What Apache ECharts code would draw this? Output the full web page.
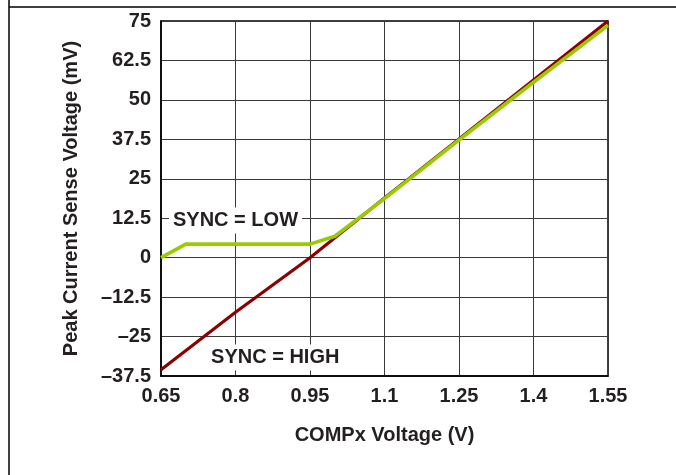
<!DOCTYPE html>
<html>
<head>
<meta charset="utf-8">
<script src="https://cdn.jsdelivr.net/npm/echarts@6/dist/echarts.min.js"></script>
<style>
html,body{margin:0;padding:0;background:#fff;}
#c{width:676px;height:475px;}
</style>
</head>
<body>
<div id="c"></div>
<script>
// ---- data ----
var xTicks = [0.65, 0.8, 0.95, 1.1, 1.25, 1.4, 1.55];
var syncHighX = [0.65, 0.8, 0.95, 1.1, 1.25, 1.4, 1.55];
var syncHighY = [-35.5, -17.3, 0, 18.9, 37.6, 56.3, 75];
var syncLowX = [0.65, 0.70, 0.95, 1.0, 1.1, 1.25, 1.4, 1.55];
var syncLowY = [0, 4.3, 4.3, 6.8, 18.7, 37.3, 55.6, 73.6];
var annotTexts = ['SYNC = LOW', 'SYNC = HIGH'];
var annotX = [0.80, 0.88];
var annotY = [11.8, -31.6];

function pairs(xs, ys) { return xs.map(function (x, i) { return [x, ys[i]]; }); }

var FONT = '"Liberation Sans", Arial, sans-serif';
var TXT = '#231f20';
var FS = 20;

var chart = echarts.init(document.getElementById('c'), null, {renderer: 'canvas'});
var option = {
  animation: false,
  backgroundColor: '#fff',
  grid: {left: 161, right: 68, top: 21, bottom: 99, show: true, borderColor: '#000', borderWidth: 1.5, backgroundColor: 'transparent'},
  xAxis: {
    type: 'value', min: 0.65, max: 1.55,
    name: 'COMPx Voltage (V)', nameLocation: 'middle', nameGap: 49,
    nameTextStyle: {fontFamily: FONT, fontWeight: 'bold', fontSize: FS, color: TXT},
    axisLine: {show: true, onZero: false, lineStyle: {color: '#000', width: 1.5}},
    axisTick: {show: false, customValues: xTicks},
    axisLabel: {customValues: xTicks, margin: 10, fontFamily: FONT, fontWeight: 'bold', fontSize: FS, color: TXT,
      formatter: function (v) { return String(Math.round(v * 100) / 100); }},
    splitLine: {show: true, lineStyle: {color: '#3a3a3a', width: 1}}
  },
  yAxis: {
    type: 'value', min: -37.5, max: 75, interval: 12.5,
    name: 'Peak Current Sense Voltage (mV)', nameLocation: 'middle', nameGap: 80,
    nameTextStyle: {fontFamily: FONT, fontWeight: 'bold', fontSize: FS, color: TXT},
    axisLine: {show: true, onZero: false, lineStyle: {color: '#000', width: 1.5}},
    axisTick: {show: false},
    axisLabel: {margin: 10, fontFamily: FONT, fontWeight: 'bold', fontSize: FS, color: TXT,
      formatter: function (v) { return String(v).replace('-', '\u2013'); }},
    splitLine: {show: true, lineStyle: {color: '#3a3a3a', width: 1}}
  },
  series: [
    {type: 'line', name: 'SYNC = HIGH', data: pairs(syncHighX, syncHighY), symbol: 'none',
      lineStyle: {color: '#8b0000', width: 3.2}, z: 3},
    {type: 'line', name: 'SYNC = LOW', data: pairs(syncLowX, syncLowY), symbol: 'none',
      lineStyle: {color: '#99cc00', width: 3.6}, z: 4}
  ]
};
chart.setOption(option);

var graphics = [
  {type: 'line', shape: {x1: 9, y1: 0, x2: 9, y2: 475}, style: {stroke: '#000', lineWidth: 1.5}, silent: true},
  {type: 'line', shape: {x1: 9, y1: 7, x2: 676, y2: 7}, style: {stroke: '#000', lineWidth: 1.5}, silent: true}
];
annotTexts.forEach(function (t, i) {
  var p = chart.convertToPixel({gridIndex: 0}, [annotX[i], annotY[i]]);
  graphics.push({
    type: 'text', x: p[0], y: p[1], z: 100,
    style: {text: t, font: 'bold ' + FS + 'px ' + FONT, fill: TXT, align: 'center', verticalAlign: 'middle',
      backgroundColor: '#fff', padding: [3, 4, 3, 4]}
  });
});
chart.setOption({graphic: graphics});
</script>
</body>
</html>
